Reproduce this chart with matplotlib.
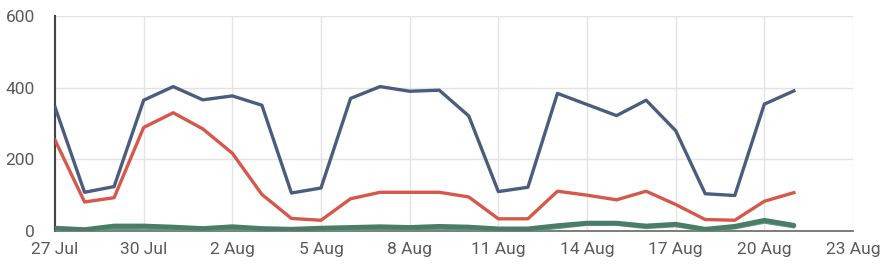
import matplotlib
matplotlib.use("Agg")
import matplotlib.pyplot as plt
import pandas as pd

dates = pd.date_range("2020-07-27", "2020-08-21", freq="D")
blue = [346, 108, 124, 365, 403, 366, 377, 351, 106, 120, 370, 403, 390, 393, 321,
        110, 122, 384, 353, 322, 365, 280, 104, 99, 354, 391]
red = [254, 81, 93, 289, 330, 285, 217, 102, 35, 30, 90, 108, 108, 108, 95,
       34, 34, 111, 100, 87, 111, 74, 32, 30, 83, 107]
green = [8, 4, 14, 14, 11, 7, 12, 7, 5, 8, 10, 12, 10, 13, 11,
         6, 6, 15, 22, 22, 14, 19, 5, 13, 30, 16]
green2 = [5, 2, 8, 9, 7, 4, 7, 4, 3, 5, 6, 8, 7, 9, 7,
          3, 3, 11, 20, 20, 11, 16, 3, 10, 26, 13]
tick_dates = ["2020-07-27", "2020-07-30", "2020-08-02", "2020-08-05", "2020-08-08",
              "2020-08-11", "2020-08-14", "2020-08-17", "2020-08-20", "2020-08-23"]
tick_labels = ["27 Jul", "30 Jul", "2 Aug", "5 Aug", "8 Aug", "11 Aug", "14 Aug",
               "17 Aug", "20 Aug", "23 Aug"]
y_ticks = [0, 200, 400, 600]

plt.rcParams['font.family'] = ['Roboto', 'DejaVu Sans']

fig = plt.figure(figsize=(8.88, 2.74), dpi=100)
ax = fig.add_axes([55/888, 1-231/274, (853-55)/888, (231-16)/274])

ax.plot(dates, green2, color="#5f9a82", lw=3, solid_capstyle="round", zorder=3)
ax.plot(dates, green, color="#4a7d68", lw=3.4, solid_capstyle="round", zorder=3)
ax.plot(dates, red, color="#d5584b", lw=2.4, zorder=4)
ax.plot(dates, blue, color="#4a5d7e", lw=2.4, zorder=5)

tds = pd.to_datetime(tick_dates)
ax.set_xticks(tds)
ax.set_xticklabels(tick_labels)
ax.set_xlim(tds[0], tds[-1])
ax.set_yticks(y_ticks)
ax.set_ylim(0, 600)

ax.grid(True, color="#e3e3e3", lw=1)
ax.set_axisbelow(True)
for s in ["top", "right"]:
    ax.spines[s].set_visible(False)
ax.spines["left"].set_color("#444444")
ax.spines["left"].set_linewidth(1.5)
ax.spines["bottom"].set_color("#666666")
ax.spines["bottom"].set_linewidth(1.2)
ax.tick_params(axis="both", length=0, labelsize=12.5, colors="#5a5a5a")
ax.tick_params(axis="y", pad=14.5)
ax.tick_params(axis="x", pad=8)

fig.savefig("out.png", dpi=100)
